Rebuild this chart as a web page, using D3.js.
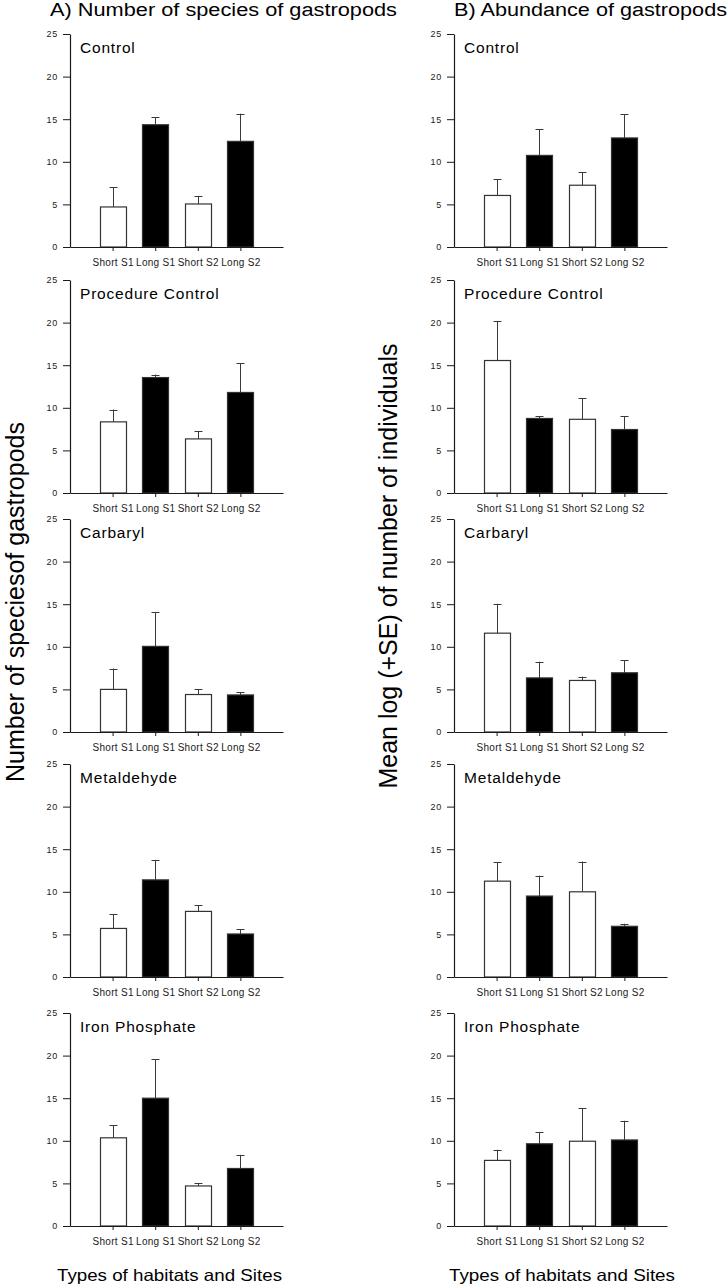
<!DOCTYPE html>
<html>
<head>
<meta charset="utf-8">
<script src="https://cdn.jsdelivr.net/npm/d3@7"></script>
<style>
  html, body { margin: 0; padding: 0; background: #fff; }
  svg { display: block; font-family: "Liberation Sans", Arial, Helvetica, sans-serif; }
</style>
</head>
<body>
<svg id="chart" width="728" height="1285"></svg>
<script>
// ---- data ----
const categories = ["Short S1", "Long S1", "Short S2", "Long S2"];
const treatments = ["Control", "Procedure Control", "Carbaryl", "Metaldehyde", "Iron Phosphate"];
const yTicks = [0, 5, 10, 15, 20, 25];

// A) Number of species of gastropods (mean and SE)
const speciesMean = [
  [4.7, 14.35, 5.05, 12.4],
  [8.35, 13.55, 6.35, 11.8],
  [5.0, 10.05, 4.4, 4.35],
  [5.7, 11.4, 7.7, 5.05],
  [10.35, 15.0, 4.7, 6.75]
];
const speciesSE = [
  [2.3, 0.9, 0.95, 3.25],
  [1.45, 0.35, 0.9, 3.45],
  [2.45, 4.0, 0.6, 0.3],
  [1.7, 2.35, 0.7, 0.55],
  [1.5, 4.55, 0.3, 1.6]
];

// B) Abundance of gastropods (mean and SE)
const abundanceMean = [
  [6.05, 10.75, 7.25, 12.8],
  [15.55, 8.75, 8.65, 7.45],
  [11.6, 6.35, 6.05, 6.95],
  [11.25, 9.5, 10.0, 5.95],
  [7.7, 9.65, 9.95, 10.1]
];
const abundanceSE = [
  [1.9, 3.1, 1.5, 2.8],
  [4.65, 0.25, 2.45, 1.55],
  [3.45, 1.9, 0.45, 1.5],
  [2.25, 2.4, 3.55, 0.3],
  [1.25, 1.35, 3.85, 2.25]
];

const columnTitles = ["A) Number of species of gastropods", "B) Abundance of gastropods"];
const yTitles = ["Number of speciesof gastropods", "Mean log (+SE) of number of individuals"];
const xTitle = "Types of habitats and Sites";

// ---- layout ----
const svg = d3.select("#chart");
const rowTops = [34, 280, 519, 764, 1013];
const colLefts = [70, 454];
const plotW = 213, plotH = 213;
const barW = 26;
const ink = "#1a1a1a";

const columns = [
  { mean: speciesMean, se: speciesSE },
  { mean: abundanceMean, se: abundanceSE }
];

columns.forEach((col, c) => {
  const x0 = colLefts[c];
  treatments.forEach((t, r) => {
    const top = rowTops[r];
    const g = svg.append("g").attr("transform", `translate(${x0},${top})`);
    const x = d3.scaleLinear().domain([0, categories.length + 1]).range([0, plotW]);
    const y = d3.scaleLinear().domain([0, 25]).range([plotH, 0]);

    const rows = categories.map((cat, i) => ({
      cat, i, mean: col.mean[r][i], se: col.se[r][i]
    }));

    // error bars
    const eb = g.append("g").attr("stroke", "#3a3a3a").attr("stroke-width", 1).attr("fill", "none");
    eb.selectAll("line.v").data(rows).join("line")
      .attr("class", "v")
      .attr("x1", d => Math.round(x(d.i + 1)) + 0.5)
      .attr("x2", d => Math.round(x(d.i + 1)) + 0.5)
      .attr("y1", d => y(d.mean))
      .attr("y2", d => y(d.mean + d.se));
    eb.selectAll("line.c").data(rows).join("line")
      .attr("class", "c")
      .attr("x1", d => Math.round(x(d.i + 1)) + 0.5 - 4)
      .attr("x2", d => Math.round(x(d.i + 1)) + 0.5 + 4)
      .attr("y1", d => Math.round(y(d.mean + d.se)) + 0.5)
      .attr("y2", d => Math.round(y(d.mean + d.se)) + 0.5);

    // bars
    g.selectAll("rect.bar").data(rows).join("rect")
      .attr("class", "bar")
      .attr("x", d => Math.round(x(d.i + 1) - barW / 2) + 0.5)
      .attr("y", d => y(d.mean))
      .attr("width", barW)
      .attr("height", d => plotH - y(d.mean))
      .attr("fill", d => d.cat.startsWith("Long") ? "#000" : "#fff")
      .attr("stroke", "#333")
      .attr("stroke-width", 1.2);

    // y axis
    const ya = g.append("g").call(
      d3.axisLeft(y).tickValues(yTicks).tickSize(7).tickPadding(5).tickSizeOuter(0)
    );
    ya.select(".domain").attr("stroke", ink).attr("stroke-width", 1.2);
    ya.selectAll(".tick line").attr("stroke", ink);
    ya.selectAll(".tick text").attr("fill", ink)
      .style("font-size", "9px").style("letter-spacing", "0.7px");

    // x axis
    const xa = g.append("g").attr("transform", `translate(0,${plotH})`).call(
      d3.axisBottom(x).tickValues(categories.map((_, i) => i + 1))
        .tickFormat(i => categories[i - 1]).tickSize(4).tickPadding(8).tickSizeOuter(0)
    );
    xa.select(".domain").attr("stroke", ink).attr("stroke-width", 1.2);
    xa.selectAll(".tick line").attr("stroke", ink);
    xa.selectAll(".tick text").attr("fill", ink)
      .style("font-size", "10px").style("letter-spacing", "0.3px");

    // panel label
    g.append("text")
      .attr("x", 10).attr("y", 19)
      .attr("fill", "#000")
      .style("font-size", "15.5px").style("letter-spacing", "0.8px")
      .text(t);
  });
});

// column titles
svg.append("text").attr("x", 50).attr("y", 16)
  .attr("textLength", 347).attr("lengthAdjust", "spacingAndGlyphs")
  .style("font-size", "18px").text(columnTitles[0]);
svg.append("text").attr("x", 454).attr("y", 16)
  .attr("textLength", 273).attr("lengthAdjust", "spacingAndGlyphs")
  .style("font-size", "18px").text(columnTitles[1]);

// y titles
svg.append("text")
  .attr("transform", "translate(24,602) rotate(-90)")
  .attr("text-anchor", "middle")
  .attr("textLength", 360).attr("lengthAdjust", "spacingAndGlyphs")
  .style("font-size", "25px").text(yTitles[0]);
svg.append("text")
  .attr("transform", "translate(397,566) rotate(-90)")
  .attr("text-anchor", "middle")
  .attr("textLength", 445).attr("lengthAdjust", "spacingAndGlyphs")
  .style("font-size", "25px").text(yTitles[1]);

// x titles
svg.append("text").attr("x", 57).attr("y", 1281)
  .attr("textLength", 225).attr("lengthAdjust", "spacingAndGlyphs")
  .style("font-size", "16.5px").text(xTitle);
svg.append("text").attr("x", 449).attr("y", 1281)
  .attr("textLength", 226).attr("lengthAdjust", "spacingAndGlyphs")
  .style("font-size", "16.5px").text(xTitle);
</script>
</body>
</html>
